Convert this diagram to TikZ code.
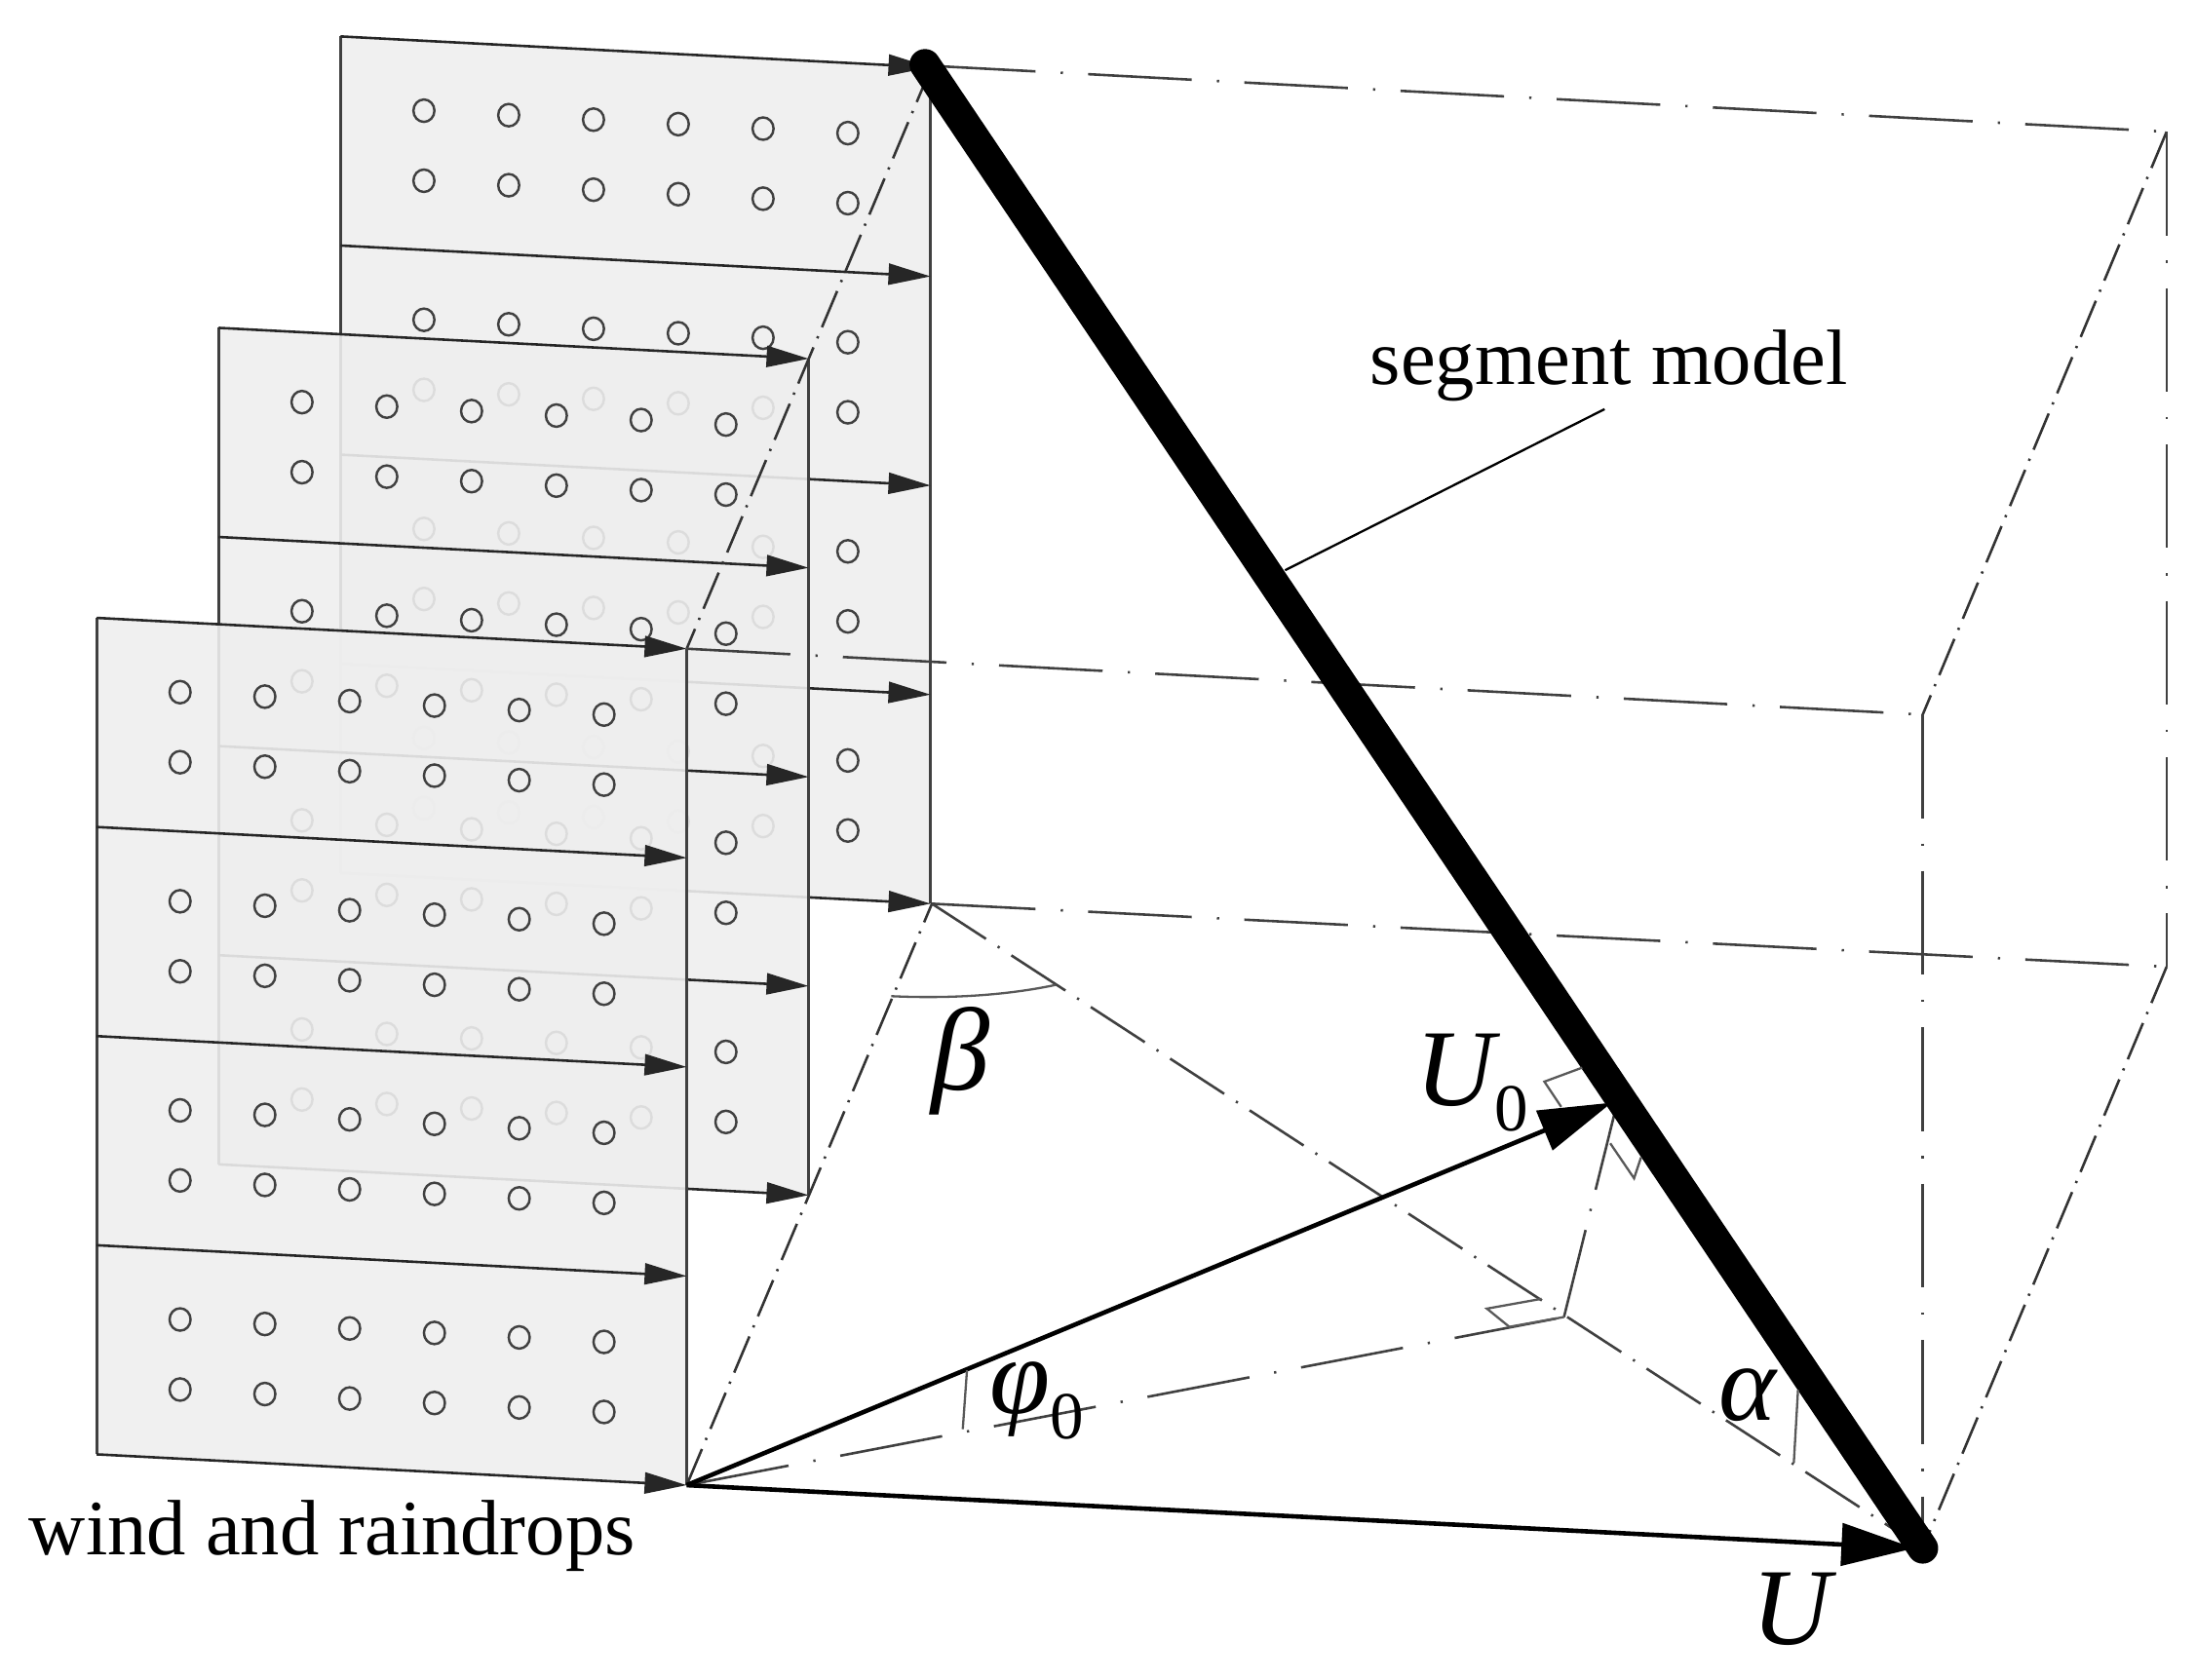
\documentclass[tikz,border=0pt]{standalone}
\usepackage{fontspec}
\setmainfont{Liberation Serif}
\usetikzlibrary{arrows.meta,calc}
\definecolor{panel}{HTML}{EEEEEE}
\tikzset{
  x=0.5pt,y=-0.5pt,
  ddlong/.style={line width=0.9pt,black!75,dash pattern=on 37pt off 9pt on 0.8pt off 9pt},
  ddmid/.style={line width=0.9pt,black!75,dash pattern=on 23pt off 5pt on 0.8pt off 5pt},
  ddgh/.style={line width=0.9pt,black!75,dash pattern=on 32pt off 7pt on 0.8pt off 7pt},
  ddshort/.style={line width=0.9pt,black!80,dash pattern=on 14pt off 3.5pt on 0.8pt off 3.5pt},
  edge/.style={line width=1pt,black!75},
  flow/.style={line width=0.9pt,black!85,-{Triangle[length=15pt,width=7.5pt]}},
  drop/.style={line width=0.85pt,black!75},
  lab/.style={font=\fontsize{28}{30}\selectfont,inner sep=0pt},
  mlab/.style={font=\fontsize{39}{40}\selectfont\itshape,inner sep=0pt,anchor=base west},
  vec/.style={line width=1.6pt,black,-{Triangle[length=26pt,width=15pt]}},
  amark/.style={line width=0.8pt,black!65}
}
\newcommand{\subzero}{\raisebox{-9pt}{\fontsize{24}{24}\selectfont\upshape 0}}
\newcommand{\panelat}[2]{%
  \begin{scope}[shift={(#1,#2)}]
    \fill[panel,fill opacity=0.9] (69,441) -- (490,463) -- (490,1060) -- (69,1038) -- cycle;
    \draw[edge] (69,1038) -- (69,441);
    \draw[edge] (490,463) -- (490,1060);
    \foreach \k in {0,1,2,3,4}{
      \draw[flow] (69,441+149.25*\k) -- (490,463+149.25*\k);
    }
    \foreach \r in {0,1,2,3}{
      \foreach \i in {0,...,5}{
        \draw[drop] (128.5+60.5*\i,494+149.25*\r+3.2*\i) circle[x radius=7.5,y radius=8];
        \draw[drop] (128.5+60.5*\i,544+149.25*\r+3.2*\i) circle[x radius=7.5,y radius=8];
      }
    }
  \end{scope}}
\begin{document}
\begin{tikzpicture}
\useasboundingbox (0,0) rectangle (1567,1199);
\panelat{174}{-415}
\panelat{87}{-207}
\panelat{0}{0}
\coordinate (A1) at (665,47);
\coordinate (A3) at (490,463);
\coordinate (O) at (490,1060);
\coordinate (B) at (665,645);
\coordinate (C) at (1546,94);
\coordinate (D) at (1372,510);
\coordinate (E) at (1372,1105);
\coordinate (F) at (1546,690);
\coordinate (G) at (1116,940);
\coordinate (H) at (1152,795);
\coordinate (T) at (1150,787);
\coordinate (S) at (660,46);
\draw[ddshort] (A1) -- (A3);
\draw[ddlong] (A1) -- (C);
\draw[ddshort] (C) -- (D);
\draw[ddlong] (C) -- (F);
\draw[ddlong] (A3) -- (D);
\draw[ddlong] (D) -- (E);
\draw[ddlong] (B) -- (F);
\draw[ddshort] (F) -- (E);
\draw[ddshort] (O) -- (B);
\draw[ddmid] (B) -- (E);
\draw[ddlong] (O) -- (G);
\draw[ddgh] (G) -- (H);
% thick model
\draw[line width=11pt,line cap=round] (S) -- (E);
% vectors
\draw[vec] (O) -- (T);
\draw[vec] (O) -- (1366,1105);
% angle marks
\draw[amark] (636,711) .. controls (680,713) and (720,710) .. (753,703);
\draw[amark] (1283,992) -- (1280,1044);
\draw[amark] (690,978) -- (687,1020);
\draw[amark] (1129,762) -- (1102,772) -- (1114,790);
\draw[amark] (1149,816) -- (1166,841) -- (1171,826);
\draw[amark] (1100,927) -- (1061,934) -- (1077,947) -- (G);
% leader
\coordinate (L1) at (1145,292);
\coordinate (L2) at (917,407);
\draw[line width=0.8pt] (L1) -- (L2);
% labels
\node[lab] (segm) at (1148,261) {segment model};
\node[lab] (wind) at (237,1096) {wind and raindrops};
\node[mlab,font=\fontsize{42}{42}\selectfont\itshape] (beta) at (664,778) {β};
\node[mlab] (alpha) at (1226,1014) {α};
\node[mlab] (phi) at (706,1009) {φ\subzero};
\node[mlab] (uo) at (1010,789) {U\subzero};
\node[mlab] (u) at (1250,1174) {U};
\end{tikzpicture}
\end{document}
